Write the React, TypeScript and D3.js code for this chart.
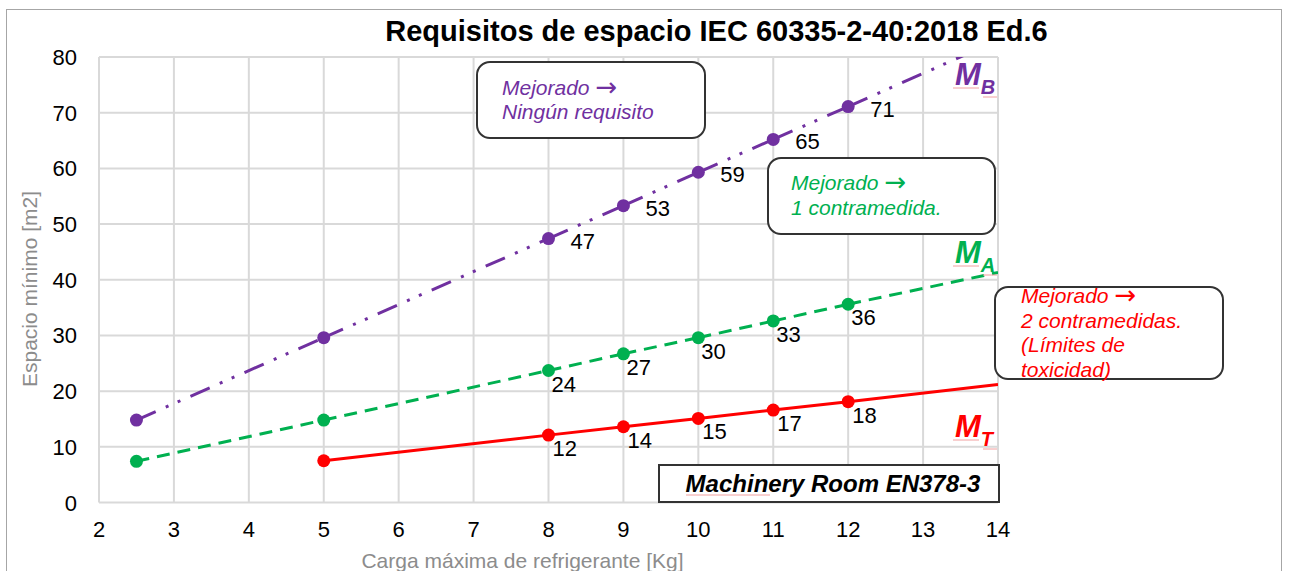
import React from "react";
import * as d3 from "d3";

// ---------- data ----------
const xTicks = [2, 3, 4, 5, 6, 7, 8, 9, 10, 11, 12, 13, 14];
const yTicks = [0, 10, 20, 30, 40, 50, 60, 70, 80];

// M_B (purple) — points + trend end
const mbX = [2.5, 5, 8, 9, 10, 11, 12];
const mbY = [14.8, 29.6, 47.4, 53.3, 59.3, 65.2, 71.1];
const mbLabels = [null, null, 47, 53, 59, 65, 71];
const mbTrend = [14, 83.0];

// M_A (green)
const maX = [2.5, 5, 8, 9, 10, 11, 12];
const maY = [7.4, 14.8, 23.7, 26.7, 29.6, 32.6, 35.6];
const maLabels = [null, null, 24, 27, 30, 33, 36];
const maTrend = [14, 41.3];

// M_T (red)
const mtX = [5, 8, 9, 10, 11, 12];
const mtY = [7.5, 12.1, 13.6, 15.1, 16.6, 18.1];
const mtLabels = [null, 12, 14, 15, 17, 18];
const mtTrend = [14, 21.2];

const title = "Requisitos de espacio IEC 60335-2-40:2018 Ed.6";
const xTitle = "Carga máxima de refrigerante [Kg]";
const yTitle = "Espacio mínimo [m2]";
const boxB = ["Mejorado \u2192", "Ningún requisito"];
const boxA = ["Mejorado \u2192", "1 contramedida."];
const boxT = ["Mejorado \u2192", "2 contramedidas.", "(Límites de", "toxicidad)"];
const roomText = "Machinery Room EN378-3";

// ---------- layout ----------
const W = 1292, H = 571;
const L = 99, R = 998, T = 57, B = 502.5;
const FONT = "'Liberation Sans', Arial, sans-serif";
const PURPLE = "#7030A0", GREEN = "#00B050", RED = "#FF0000";

const x = d3.scaleLinear().domain([2, 14]).range([L, R]);
const y = d3.scaleLinear().domain([0, 80]).range([B, T]);
const line = d3.line<[number, number]>().x(d => x(d[0])).y(d => y(d[1]));

function segments(xs: number[], ys: number[], trend: number[]) {
  const pts: [number, number][] = xs.map((v, i) => [v, ys[i]]);
  pts.push([trend[0], trend[1]]);
  const segs: [number, number][][] = [];
  for (let i = 0; i < pts.length - 1; i++) segs.push([pts[i], pts[i + 1]]);
  return segs;
}

function Series({ xs, ys, trend, labels, color, dash, r, ldx, ldy }: any) {
  return (
    <g>
      <g clipPath="url(#plotclip)">
        {segments(xs, ys, trend).map((s, i) => (
          <path key={i} d={line(s) || ""} fill="none" stroke={color} strokeWidth={3}
            strokeDasharray={dash} />
        ))}
      </g>
      {xs.map((v: number, i: number) => (
        <circle key={i} cx={x(v)} cy={y(ys[i])} r={r} fill={color} />
      ))}
      {xs.map((v: number, i: number) => labels[i] == null ? null : (
        <text key={"l" + i} x={x(v) + ldx} y={y(ys[i]) + ldy} fontSize={22} fill="#000"
          fontFamily={FONT}>{labels[i]}</text>
      ))}
    </g>
  );
}

function renderLine(s: string) {
  const idx = s.indexOf("\u2192");
  if (idx < 0) return s;
  return (
    <>
      {s.slice(0, idx)}
      <tspan fontFamily="'DejaVu Sans', sans-serif" fontStyle="normal" fontSize={26} dy={1}>{"\u2192"}</tspan>
    </>
  );
}

function Box({ x0, y0, x1, y1, lines, color, tx, ty, lh }: any) {
  return (
    <g>
      <rect x={x0} y={y0} width={x1 - x0} height={y1 - y0} rx={13} ry={13}
        fill="#fff" stroke="#333" strokeWidth={2} />
      {lines.map((s: string, i: number) => (
        <text key={i} x={tx} y={ty + i * lh} fontSize={21} fontStyle="italic" fill={color}
          fontFamily={FONT}>{renderLine(s)}</text>
      ))}
    </g>
  );
}

function MLabel({ x0, base, sub, color }: any) {
  return (
    <g fontFamily={FONT} fontWeight="bold" fontStyle="italic" fill={color}>
      <text x={x0} y={base} fontSize={31}>M<tspan fontSize={20} dy={9}>{sub}</tspan></text>
      <line x1={x0 - 2} x2={x0 + 24} y1={base + 3} y2={base + 3} stroke="#f2a0a0" strokeWidth={1} />
      <line x1={x0 + 28} x2={x0 + 42} y1={base + 12} y2={base + 12} stroke="#f2a0a0" strokeWidth={1} />
    </g>
  );
}

export default function App() {
  return (
    <svg width={W} height={H} style={{ position: "absolute", left: 0, top: 0, background: "#fff" }}
      fontFamily={FONT}>
      <defs>
        <clipPath id="plotclip"><rect x={L} y={T} width={R - L} height={B - T} /></clipPath>
      </defs>
      <rect x={0} y={0} width={W} height={H} fill="#fff" />
      <rect x={6.5} y={9.5} width={1275} height={580} fill="none" stroke="#a6a6a6" strokeWidth={1} />

      {/* grid */}
      {xTicks.map(t => (
        <line key={"gx" + t} x1={x(t)} x2={x(t)} y1={T} y2={B} stroke="#d9d9d9" strokeWidth={2} />
      ))}
      {yTicks.map(t => (
        <line key={"gy" + t} x1={L} x2={R} y1={y(t)} y2={y(t)} stroke="#d9d9d9" strokeWidth={2} />
      ))}

      {/* tick labels */}
      {xTicks.map(t => (
        <text key={"tx" + t} x={x(t)} y={537} fontSize={22} textAnchor="middle" fill="#000">{t}</text>
      ))}
      {yTicks.map(t => (
        <text key={"ty" + t} x={77} y={y(t) + 8} fontSize={22} textAnchor="end" fill="#000">{t}</text>
      ))}

      {/* axis titles */}
      <text x={(L + R) / 2 - 26} y={568} fontSize={21} textAnchor="middle" fill="#8c8c8c">{xTitle}</text>
      <text transform="translate(37,289) rotate(-90)" fontSize={21} textAnchor="middle" fill="#8c8c8c">{yTitle}</text>

      {/* title */}
      <text x={716.5} y={41} fontSize={29} fontWeight="bold" textAnchor="middle" fill="#000">{title}</text>

      {/* series */}
      <Series xs={mtX} ys={mtY} trend={mtTrend} labels={mtLabels} color={RED} dash={null} r={6.5} ldx={4} ldy={21} />
      <Series xs={maX} ys={maY} trend={maTrend} labels={maLabels} color={GREEN} dash="13,8" r={6.5} ldx={3} ldy={21} />
      <Series xs={mbX} ys={mbY} trend={mbTrend} labels={mbLabels} color={PURPLE} dash="21,11,3,10,3,11" r={6.5} ldx={22} ldy={10} />

      {/* annotation boxes */}
      <Box x0={477} y0={62} x1={705} y1={138} lines={boxB} color={PURPLE} tx={502} ty={95} lh={24} />
      <Box x0={768} y0={158} x1={995} y1={234} lines={boxA} color={GREEN} tx={791} ty={190} lh={25} />
      <Box x0={995} y0={287} x1={1223} y1={379} lines={boxT} color={RED} tx={1021} ty={303} lh={24.5} />

      {/* room box */}
      <rect x={659} y={465} width={340} height={37} fill="#fff" stroke="#333" strokeWidth={2} />
      <text x={833} y={492} fontSize={24} fontWeight="bold" fontStyle="italic" textAnchor="middle" fill="#000">{roomText}</text>
      <line x1={686} x2={770} y1={495} y2={495} stroke="#f2a0a0" strokeWidth={1} />

      {/* M labels */}
      <MLabel x0={955} base={85} sub="B" color={PURPLE} />
      <MLabel x0={955} base={263} sub="A" color={GREEN} />
      <MLabel x0={955} base={437} sub="T" color={RED} />
    </svg>
  );
}
